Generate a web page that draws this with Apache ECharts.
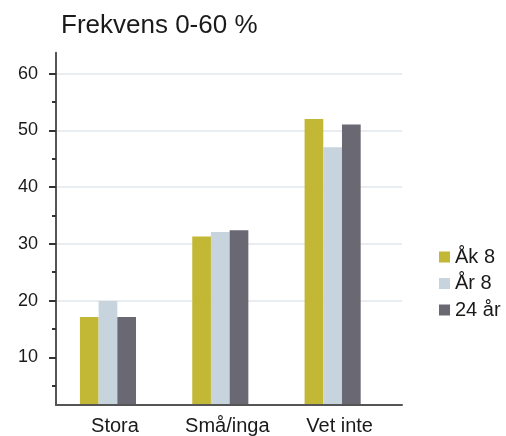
<!DOCTYPE html>
<html>
<head>
<meta charset="utf-8">
<script src="https://cdn.jsdelivr.net/npm/echarts@6/dist/echarts.min.js"></script>
<style>
  html, body { margin: 0; padding: 0; background: #fff; }
  #chart { width: 506px; height: 436px; }
</style>
</head>
<body>
<div id="chart"></div>
<script>
// data
const categories = ['Stora', 'Små/inga', 'Vet inte'];
const seriesNames = ['Åk 8', 'År 8', '24 år'];
const ak8 = [17.0, 31.2, 52.0];
const ar8 = [19.8, 32.0, 47.0];
const ar24 = [17.0, 32.3, 51.0];
const yTicks = [10, 20, 30, 40, 50, 60];

const colors = ['#c3b736', '#c7d4de', '#6a6872'];
const font = '"Liberation Sans", Arial, sans-serif';
const yMin = 1.6;
const yMax = 63.7;

const chart = echarts.init(document.getElementById('chart'));

chart.setOption({
  animation: false,
  color: colors,
  textStyle: { fontFamily: font, color: '#1a1a1a' },
  title: {
    text: 'Frekvens 0-60 %',
    left: 56,
    top: 8,
    textStyle: { fontFamily: font, fontSize: 26, fontWeight: 'normal', color: '#1a1a1a' }
  },
  legend: {
    orient: 'vertical',
    left: 434,
    top: 242,
    itemWidth: 11,
    itemHeight: 11,
    itemGap: 6.5,
    icon: 'rect',
    textStyle: { fontFamily: font, fontSize: 20, color: '#1a1a1a', lineHeight: 20, padding: [0, 0, 0, 0] },
    data: seriesNames
  },
  grid: [
    // grid 0: axes frame, gridlines and tick labels
    { left: 56, right: 104, top: 52.7, bottom: 31 },
    // grid 1: bars and category labels (bars sit a bit left in the original)
    { left: 51.8, width: 337, top: 52.7, bottom: 31 }
  ],
  xAxis: [
    {
      type: 'category',
      gridIndex: 0,
      data: categories,
      axisLine: { lineStyle: { color: '#555', width: 2 } },
      axisTick: { show: false },
      axisLabel: { show: false }
    },
    {
      type: 'category',
      gridIndex: 1,
      data: categories,
      axisLine: { show: false },
      axisTick: { show: false },
      axisLabel: {
        fontFamily: font,
        fontSize: 20,
        color: '#1a1a1a',
        margin: 12,
        padding: [0, 0, 0, 14]
      }
    }
  ],
  yAxis: [
    {
      type: 'value',
      gridIndex: 0,
      min: yMin,
      max: yMax,
      axisLine: { show: true, lineStyle: { color: '#555', width: 2 } },
      axisTick: { show: true, length: 7, lineStyle: { color: '#333', width: 2 }, customValues: yTicks },
      minorTick: { show: true, splitNumber: 2, length: 4, lineStyle: { color: '#333', width: 2 } },
      axisLabel: { fontFamily: font, fontSize: 18, color: '#1a1a1a', margin: 18, customValues: yTicks },
      splitLine: {
        show: true,
        showMinLine: false,
        showMaxLine: true,
        lineStyle: { color: '#e1e7ee', width: 1.5 }
      }
    },
    {
      type: 'value',
      gridIndex: 1,
      min: yMin,
      max: yMax,
      show: false,
      splitLine: { show: false }
    }
  ],
  series: [
    { name: seriesNames[0], type: 'bar', xAxisIndex: 1, yAxisIndex: 1, data: ak8, barWidth: 18.7, barGap: 0 },
    { name: seriesNames[1], type: 'bar', xAxisIndex: 1, yAxisIndex: 1, data: ar8, barWidth: 18.7, barGap: 0 },
    { name: seriesNames[2], type: 'bar', xAxisIndex: 1, yAxisIndex: 1, data: ar24, barWidth: 18.7, barGap: 0 }
  ]
});
</script>
</body>
</html>
